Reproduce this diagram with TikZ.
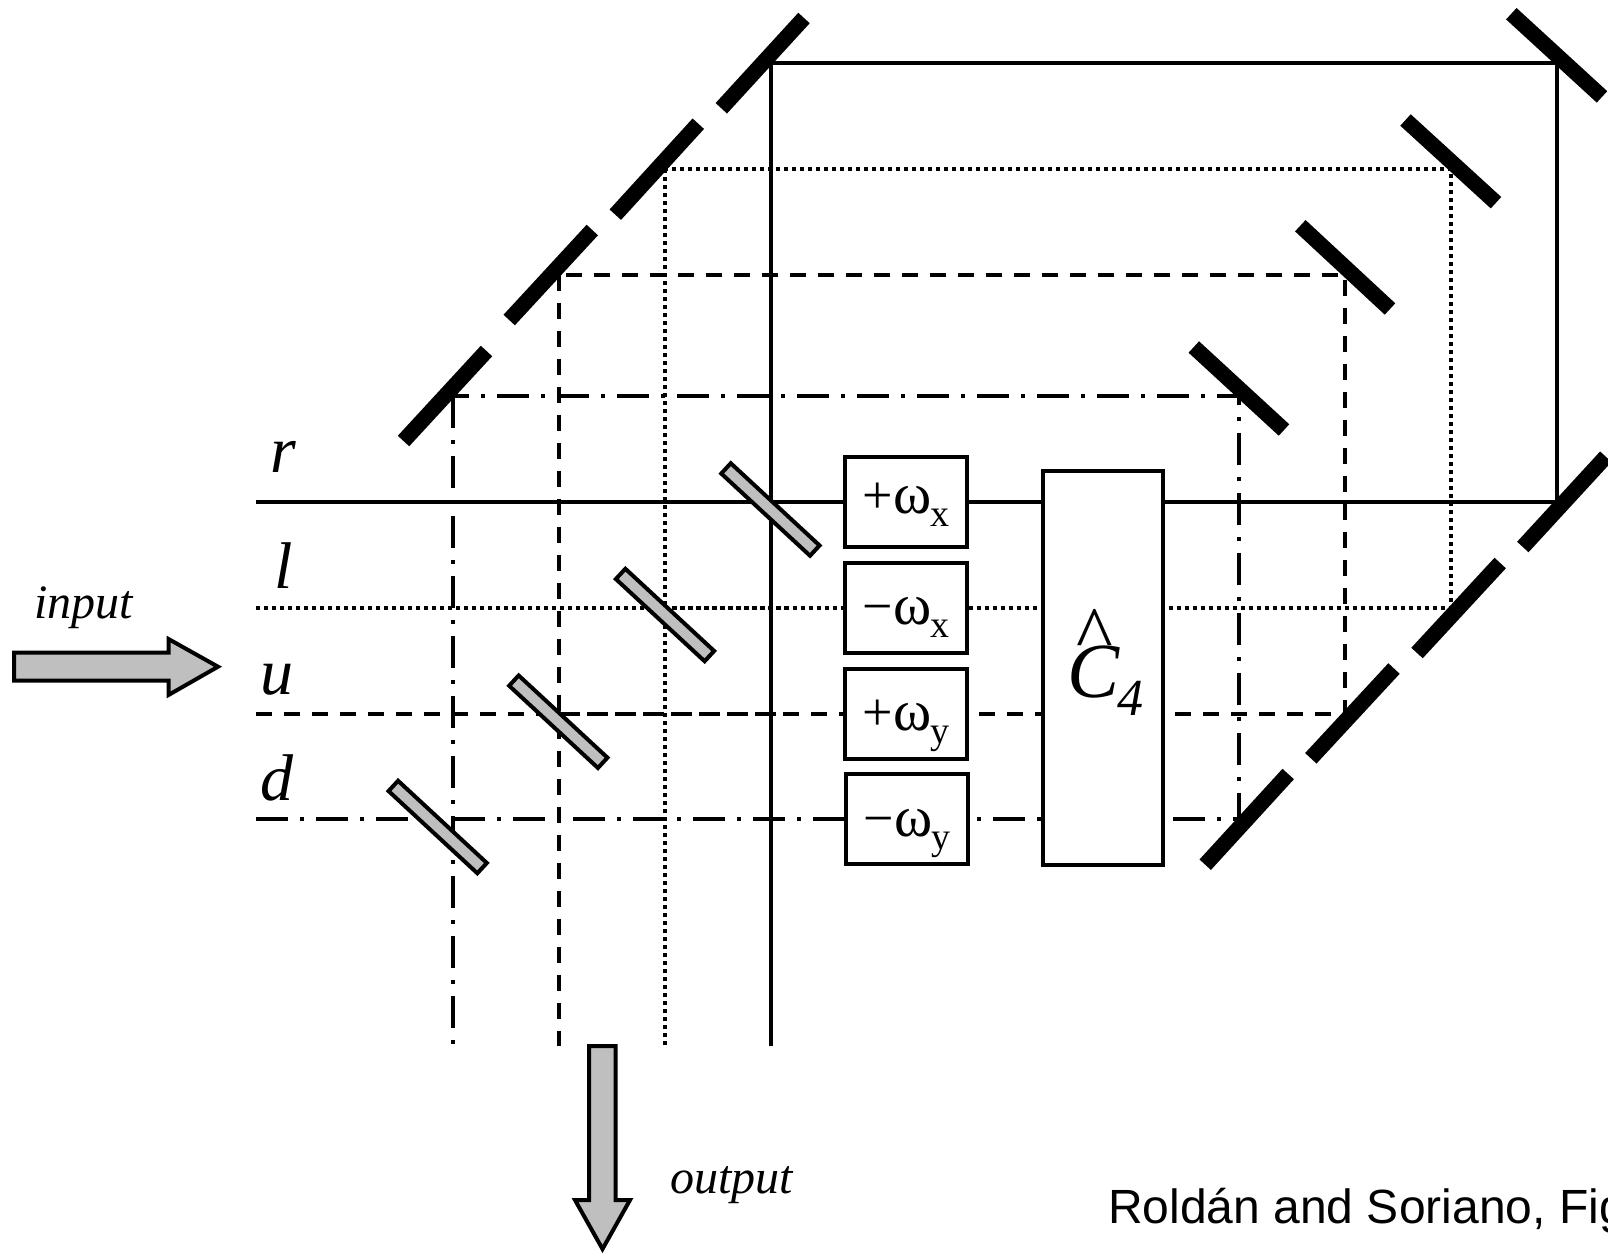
\documentclass[tikz,border=0pt]{standalone}
\usepackage{fontspec}
\setmainfont{Liberation Serif}
\newfontfamily\captionfont{Liberation Sans}
\usepackage{xcolor}
\usetikzlibrary{positioning}
\definecolor{plategray}{gray}{0.75}
\newcommand{\freqlabel}[2]{\fontsize{54}{54}\selectfont #1\fontsize{58}{58}\selectfont ω\kern-1pt\raisebox{-13pt}{\fontsize{38}{38}\selectfont #2}}
\tikzset{
	beamr/.style={line width=4pt},
	beaml/.style={line width=4pt, dash pattern=on 4pt off 4pt},
	beamu/.style={line width=4pt, dash pattern=on 16pt off 12pt},
	beamd/.style={line width=4pt, dash pattern=on 32pt off 12pt on 4pt off 12pt},
	freqbox/.style={draw, fill=white, line width=4pt, inner sep=0pt, minimum width=122pt, minimum height=90pt, text height=48pt, text depth=14pt},
	splitter/.style={draw, fill=plategray, line width=4pt, inner sep=0pt, minimum width=121pt, minimum height=14pt, rotate=-42.8},
	mirror/.style={line width=15.5pt},
	bigarrow/.style={draw, fill=plategray, line width=4pt, miter limit=10},
	beamlabel/.style={anchor=base west, inner sep=0pt, font=\fontsize{66}{66}\selectfont\itshape},
	portlabel/.style={anchor=base west, inner sep=0pt, font=\fontsize{48}{48}\selectfont\itshape}
}
\begin{document}
\begin{tikzpicture}[x=1pt, y=-1pt]
	\useasboundingbox (0, 0) rectangle (1608, 1253);

	\foreach \b/\ly/\ty/\lx/\rx/\ex in {r/501.7/62.7/770.7/1556.7/785, l/607.7/169/664.5/1451/785, u/713.7/274.7/559/1345/785, d/819.3/395.7/453/1239/437} {
		\coordinate (in\b) at (256, \ly);
		\coordinate (stop\b) at (\ex, \ly);
		\coordinate (split\b) at (\lx, \ly);
		\coordinate (turn\b) at (\rx, \ly);
		\coordinate (far\b) at (\rx, \ty);
		\coordinate (top\b) at (\lx, \ty);
		\coordinate (out\b) at (\lx, 1046);
		\draw[beam\b] (in\b) -- (stop\b);
		\draw[beam\b] (split\b) -- (turn\b) -- (far\b) -- (top\b);
		\draw[beam\b] (top\b) -- (out\b);
	};

	\node[freqbox, text height=36pt] (plusx) at (906, 502) {\freqlabel{+}{x}};
	\node[freqbox] (minusx) at (906, 607.5) {\freqlabel{−}{x}};
	\node[freqbox] (plusy) at (906, 713.5) {\freqlabel{+}{y}};
	\node[freqbox] (minusy) at (907, 819.3) {\freqlabel{−}{y}};

	\node[draw, fill=white, line width=4pt, minimum width=120.5pt, minimum height=394pt] (cfour) at (1103.2, 668) {};
	\node[anchor=base west, inner sep=0pt, font=\fontsize{78}{78}\selectfont\itshape] (cname) at (1067, 697) {C};
	\node[anchor=base, inner sep=0pt, font=\fontsize{78}{78}\selectfont] (chat) at (1095, 660) {\textasciicircum};
	\node[anchor=base west, inner sep=0pt, font=\fontsize{52}{52}\selectfont\itshape] (cidx) at (1117, 715) {4};

	\foreach \n/\x/\y in {sr/770.4/509.5, sl/665/615, su/558.3/721.7, sd/437.7/827} {
		\node[splitter] (\n) at (\x, \y) {};
	};

	\foreach \xa/\ya/\xb/\yb in {1511.3/13.7/1602/96.9, 1405.5/120/1496/202.7, 1300.3/225.7/1390/309, 1193.8/347/1284/430,
		804/18/721.3/108.3, 698.3/123.7/615.3/214.7, 592.3/230/509.2/320, 486.5/351/403.5/441,
		1605.8/456.7/1522.8/547, 1500.2/563/1417/653, 1394/668.5/1310.8/758.3, 1288.2/774/1205.2/864.7} {
		\draw[mirror] (\xa, \ya) -- (\xb, \yb);
	};

	\draw[bigarrow] (14, 652.7) -- (168.5, 652.7) -- (168.5, 639) -- (218, 666.7) -- (168.5, 695) -- (168.5, 680.7) -- (14, 680.7) -- cycle;
	\draw[bigarrow] (589, 1046) -- (615.5, 1046) -- (615.5, 1200) -- (630, 1200) -- (602.5, 1249) -- (575, 1200) -- (589, 1200) -- cycle;

	\foreach \t/\x/\y in {r/270/472, l/274/588, u/260/694, d/260/800} {
		\node[beamlabel] (lab\t) at (\x, \y) {\t};
	};
	\node[portlabel] (input) at (34, 618) {input};
	\node[portlabel] (output) at (670, 1193) {output};
	\node[anchor=base west, inner sep=0pt, font=\captionfont\fontsize{48}{48}\selectfont] (caption) at (1108, 1223) {Roldán and Soriano, Fig};
\end{tikzpicture}
\end{document}
